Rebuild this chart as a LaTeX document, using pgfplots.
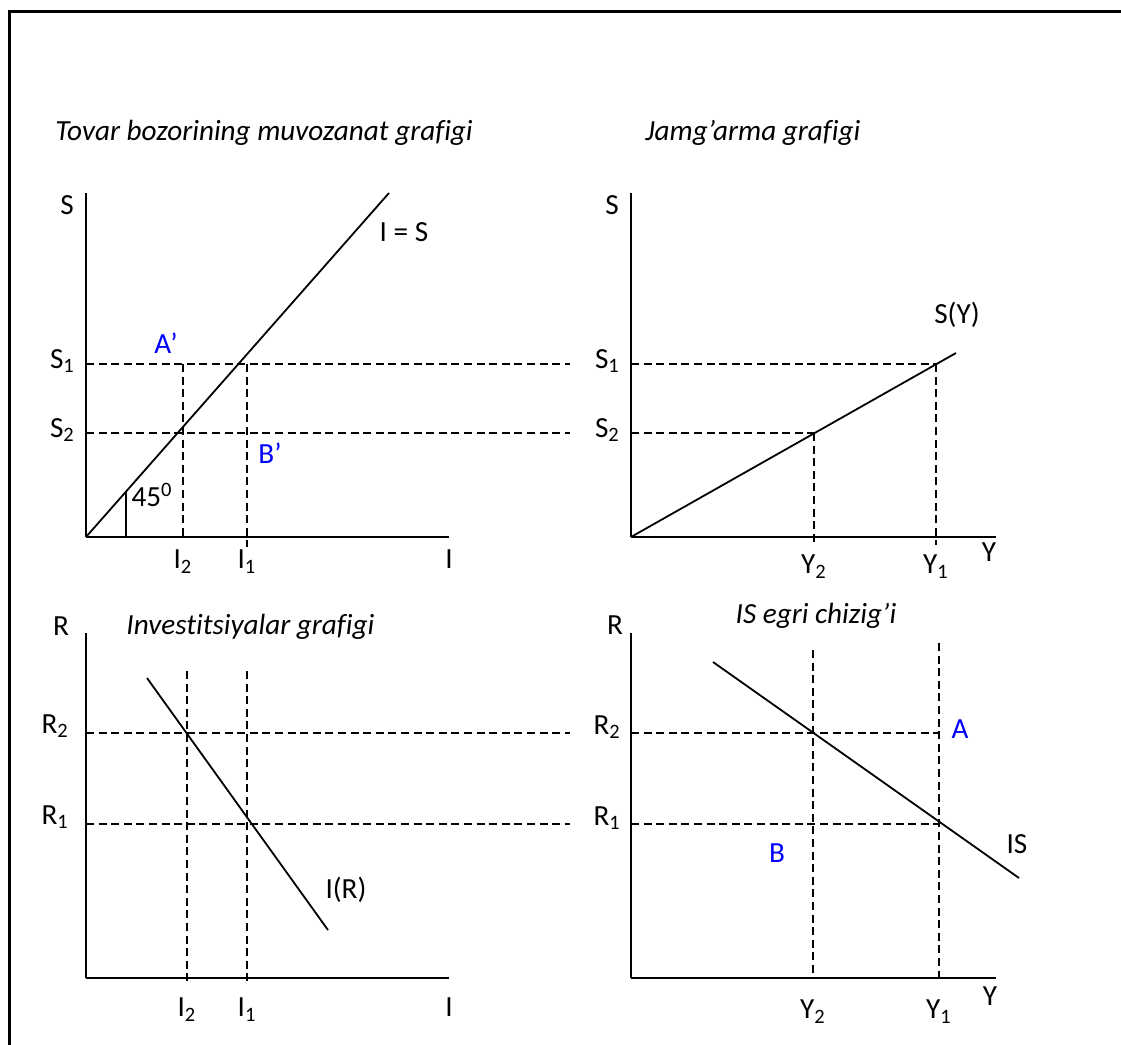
\documentclass[border=0pt]{standalone}
\usepackage{fontspec}
\setmainfont{Carlito}[Ligatures={TeX,NoCommon}]
\usepackage{pgfplots}
\pgfplotsset{compat=1.18}

\newcommand\lbl{\fontsize{14.6}{17}\selectfont}
\newcommand\sub[2]{#1\textsubscript{#2}}

% one unit = one half point, the same scale in all four panels
\pgfplotsset{
  panel/.style={
    x=0.5pt, y=0.5pt, xmin=0, ymin=0,
    axis lines=left, axis line style={-, line width=1.15pt},
    major tick length=0pt, clip=false,
    tick label style={font=\lbl, inner sep=4.4pt},
  },
  curve/.style={black, line width=0.9pt, no marks},
  guide/.style={black, line width=0.85pt, no marks, dash pattern=on 4pt off 2.3pt},
}

\begin{document}
\begin{tikzpicture}
\useasboundingbox (0,0) rectangle (560.5pt,-522.5pt);
% outer frame
\draw[line width=1.2pt] (4.75pt,-530pt) -- (4.75pt,-5.75pt) -- (570pt,-5.75pt);

% panel titles
\begin{scope}[every node/.style={inner sep=0pt, font=\lbl\itshape}]
\node[anchor=base west] at (27.5pt,-70pt) {Tovar bozorining muvozanat grafigi};
\node[anchor=base west] at (322.5pt,-70pt) {Jamg’arma grafigi};
\node[anchor=base west] at (63pt,-317pt) {Investitsiyalar grafigi};
\node[anchor=base] at (408pt,-311.5pt) {IS egri chizig’i};
\end{scope}

% goods market equilibrium: I = S
\begin{axis}[panel, at={(43pt,-268.5pt)}, anchor=origin,
  xmax=363, ymax=344,
  xtick={97,161,363}, xticklabels={\sub{I}{2},\sub{I}{1},I},
  ytick={104,173}, yticklabels={\sub{S}{2},\sub{S}{1}},
  xticklabel style={yshift=-2pt},
  yticklabel style={xshift=-1pt, yshift=1.5pt}]
  \addplot[curve] coordinates {(0,0) (303,344)};
  \addplot[curve] coordinates {(40,0) (40,46)};
  \addplot[guide] coordinates {(0,173) (484,173)};
  \addplot[guide] coordinates {(0,104) (484,104)};
  \addplot[guide] coordinates {(97,173) (97,0)};
  \addplot[guide] coordinates {(161,173) (161,-10)};
  \node[font=\lbl] at (axis cs:-19,332) {S};
  \node[font=\lbl] at (axis cs:318,305) {I = S};
  \node[font=\lbl, text=blue] at (axis cs:80,194) {A’};
  \node[font=\lbl, text=blue] at (axis cs:184,84) {B’};
  \node[font=\lbl] at (axis cs:66,42) {45\textsuperscript{0}};
\end{axis}

% saving function S(Y)
\begin{axis}[panel, at={(315.5pt,-268.5pt)}, anchor=origin,
  xmax=365, ymax=344,
  xtick={183,305}, xticklabels={\sub{Y}{2},\sub{Y}{1}},
  ytick={104,173}, yticklabels={\sub{S}{2},\sub{S}{1}},
  xticklabel style={yshift=-4.5pt},
  yticklabel style={xshift=-1pt, yshift=1.5pt}]
  \addplot[curve] coordinates {(0,0) (325,184)};
  \addplot[guide] coordinates {(0,173) (305,173)};
  \addplot[guide] coordinates {(0,104) (183,104)};
  \addplot[guide] coordinates {(183,104) (183,-8)};
  \addplot[guide] coordinates {(305,173) (305,-8)};
  \node[font=\lbl] at (axis cs:-19,332) {S};
  \node[font=\lbl] at (axis cs:326,222) {S(Y)};
  \node[font=\lbl] at (axis cs:358,-15) {Y};
\end{axis}

% investment function I(R)
\begin{axis}[panel, at={(43pt,-489pt)}, anchor=origin,
  xmax=363, ymax=345,
  xtick={101,161,363}, xticklabels={\sub{I}{2},\sub{I}{1},I},
  ytick={154,245}, yticklabels={\sub{R}{1},\sub{R}{2}},
  xticklabel style={yshift=-5.5pt},
  yticklabel style={xshift=-4pt, yshift=3.3pt}]
  \addplot[curve] coordinates {(61,300) (242,48)};
  \addplot[guide] coordinates {(0,245) (484,245)};
  \addplot[guide] coordinates {(0,154) (484,154)};
  \addplot[guide] coordinates {(101,307) (101,-7)};
  \addplot[guide] coordinates {(161,307) (161,-7)};
  \node[font=\lbl] at (axis cs:-25,352) {R};
  \node[font=\lbl] at (axis cs:260,88) {I(R)};
\end{axis}

% IS curve
\begin{axis}[panel, at={(315.5pt,-489pt)}, anchor=origin,
  xmax=365, ymax=345,
  xtick={182,308}, xticklabels={\sub{Y}{2},\sub{Y}{1}},
  ytick={154,245}, yticklabels={\sub{R}{1},\sub{R}{2}},
  xticklabel style={yshift=-6.5pt},
  yticklabel style={xshift=-0.5pt, yshift=3pt}]
  \addplot[curve] coordinates {(82,316) (388,100)};
  \addplot[guide] coordinates {(0,245) (308,245)};
  \addplot[guide] coordinates {(0,154) (308,154)};
  \addplot[guide] coordinates {(182,328) (182,0)};
  \addplot[guide] coordinates {(308,335) (308,0)};
  \node[font=\lbl] at (axis cs:-16,353) {R};
  \node[font=\lbl, text=blue] at (axis cs:329,249) {A};
  \node[font=\lbl, text=blue] at (axis cs:146,125) {B};
  \node[font=\lbl] at (axis cs:386,134) {IS};
  \node[font=\lbl] at (axis cs:359,-18) {Y};
\end{axis}
\end{tikzpicture}
\end{document}
